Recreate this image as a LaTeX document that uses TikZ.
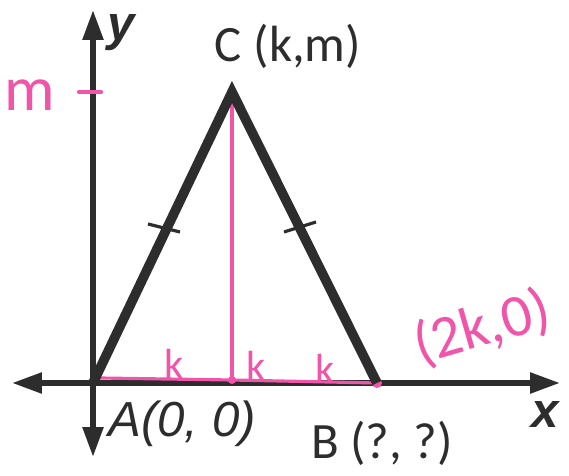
\documentclass[tikz,border=0pt]{standalone}
\usepackage{fontspec}
\setmainfont{Carlito}
\newfontfamily\axisfont{Liberation Sans}
\usetikzlibrary{arrows.meta}
\definecolor{ink}{RGB}{45,45,45}
\definecolor{marker}{RGB}{240,85,170}
\tikzset{
  axis/.style={draw=ink, line width=3.2pt, {Triangle[length=6mm, width=4mm]}-{Triangle[length=6mm, width=4mm]}},
  side/.style={draw=ink, line width=5.5pt, line join=miter},
  pen/.style={draw=marker, line width=1.8pt, line cap=round},
  hatch/.style={draw=ink, line width=1.8pt},
  ptlabel/.style={font=\fontsize{29}{33}\selectfont, text=ink, inner sep=0pt},
  axlabel/.style={font=\axisfont\bfseries\itshape\fontsize{28}{32}\selectfont, text=ink, inner sep=0pt},
  handnote/.style={font=\fontsize{24}{28}\selectfont, text=marker, inner sep=0pt},
}

\begin{document}
\begin{tikzpicture}[x=0.02cm, y=-0.02cm]
\useasboundingbox (0,0) rectangle (569,476);
% vertices
\coordinate (A) at (93,383);
\coordinate (B) at (377,383);
\coordinate (C) at (232,92);
\coordinate (F) at (232,380);
% axes
\coordinate (xl) at (12,383);
\coordinate (xr) at (560,383);
\coordinate (yt) at (93,10);
\coordinate (yb) at (93,457);
\draw[axis] (xl) -- (xr);
\draw[axis] (yb) -- (yt);
\node[axlabel] (ylab) at (121,33) {y};
\node[axlabel] (xlab) at (545,415) {x};
% pink work
\draw[pen] (C) -- (F);
\draw[pen] (100,378) -- (F) -- (B);
\fill[marker] (F) circle (4);
\fill[marker] (B) circle (5);
\draw[pen, line width=2.4pt] (79,92) -- (101,92);
\node[handnote, font=\fontsize{36}{40}\selectfont] (mlab) at (30,95) {m};
\node[handnote] (k1) at (174,364) {k};
\node[handnote] (k2) at (256,366) {k};
\node[handnote] (k3) at (325,369) {k};
\node[handnote, font=\fontsize{34}{38}\selectfont, rotate=16] (Bval) at (482,328) {(2k,0)};
% triangle
\draw[side] (A) -- (C) -- (B);
\draw[hatch] (148,224) -- (180,232);
\draw[hatch] (284,232) -- (316,222);
% labels
\node[ptlabel] (Clab) at (288,46) {C (k,m)};
\node[axlabel, font=\axisfont\itshape\fontsize{28}{32}\selectfont, anchor=west] (Alab) at (108,424) {A(0, 0)};
\node[ptlabel] (Blab) at (382,443) {B (?, ?)};
\end{tikzpicture}
\end{document}
